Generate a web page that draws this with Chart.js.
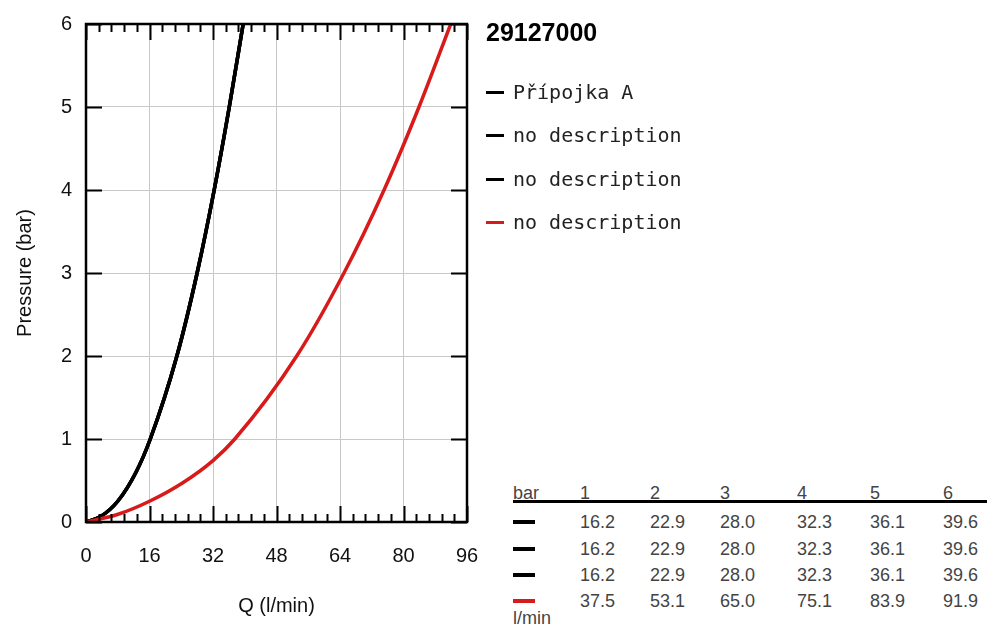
<!DOCTYPE html>
<html>
<head>
<meta charset="utf-8">
<script src="https://cdn.jsdelivr.net/npm/chart.js@4.4.1/dist/chart.umd.min.js"></script>
<style>
  body { margin: 0; background: #fff; width: 1003px; height: 634px; overflow: hidden; position: relative; font-family: Arial, "Liberation Sans", sans-serif; }
  #plot { position: absolute; left: 0; top: 0; width: 490px; height: 634px; }
  #title { position: absolute; left: 486px; top: 18px; font: bold 25px Arial, "Liberation Sans", sans-serif; color: #000; }
  .leg { position: absolute; left: 486px; font: 20px "DejaVu Sans Mono", monospace; color: #222; line-height: 24px; }
  .leg span.mark { display: inline-block; width: 18px; height: 3px; vertical-align: middle; margin-right: 9px; position: relative; top: -1px; }
  #tbl { position: absolute; left: 513px; top: 480px; font: 18px Arial, "Liberation Sans", sans-serif; color: #444; }
  #tbl .cell { position: absolute; white-space: nowrap; line-height: 20px; }
  #tbl .rule { position: absolute; left: 0; top: 20px; width: 474px; height: 3px; background: #000; }
  #tbl .dash { position: absolute; width: 22px; height: 4px; }
</style>
</head>
<body>
<div id="plot"><canvas id="myChart" width="490" height="634"></canvas></div>
<div id="title"></div>
<div id="legend"></div>
<div id="tbl"></div>
<script>
const productCode = "29127000";
const pressureBar = [1, 2, 3, 4, 5, 6];
const flowA = [16.2, 22.9, 28.0, 32.3, 36.1, 39.6];
const flowB = [16.2, 22.9, 28.0, 32.3, 36.1, 39.6];
const flowC = [16.2, 22.9, 28.0, 32.3, 36.1, 39.6];
const flowD = [37.5, 53.1, 65.0, 75.1, 83.9, 91.9];
const lowBlackQ = [0, 3.8, 8.0, 12.6];
const lowBlackP = [0, 0.07, 0.25, 0.60];
const lowRedQ = [0, 7.9, 16, 24.3, 32];
const lowRedP = [0, 0.09, 0.25, 0.47, 0.74];

const seriesNames = ["Přípojka A", "no description", "no description", "no description"];
const seriesColors = ["#000000", "#000000", "#000000", "#d71a1a"];
const xTicks = [0, 16, 32, 48, 64, 80, 96];
const yTicks = [0, 1, 2, 3, 4, 5, 6];

const allFlows = [flowA, flowB, flowC, flowD];
const lowQ = [lowBlackQ, lowBlackQ, lowBlackQ, lowRedQ];
const lowP = [lowBlackP, lowBlackP, lowBlackP, lowRedP];

function toPoints(i) {
  const pts = lowQ[i].map((q, k) => ({ x: q, y: lowP[i][k] }));
  return pts.concat(allFlows[i].map((q, k) => ({ x: q, y: pressureBar[k] })));
}

// frame + inward ticks like the original
const frameTicks = {
  id: "frameTicks",
  afterDraw(chart) {
    const ctx = chart.ctx;
    const a = chart.chartArea;
    const xs = chart.scales.x;
    const ys = chart.scales.y;
    ctx.save();
    ctx.strokeStyle = "#000";
    ctx.lineWidth = 2;
    ctx.beginPath();
    // minor ticks on x every 3.2
    for (let v = 0; v <= 96.01; v += 3.2) {
      const px = Math.round(xs.getPixelForValue(v)) + 0.5;
      const major = xTicks.some(t => Math.abs(t - v) < 0.01);
      const len = major ? 16 : 8;
      ctx.moveTo(px, a.bottom);
      ctx.lineTo(px, a.bottom - len);
      ctx.moveTo(px, a.top);
      ctx.lineTo(px, a.top + len);
    }
    yTicks.forEach(t => {
      const py = Math.round(ys.getPixelForValue(t)) + 0.5;
      ctx.moveTo(a.left, py);
      ctx.lineTo(a.left + 16, py);
      ctx.moveTo(a.right, py);
      ctx.lineTo(a.right - 16, py);
    });
    ctx.stroke();
    ctx.lineWidth = 2.5;
    ctx.strokeRect(a.left, a.top, a.right - a.left, a.bottom - a.top);
    ctx.restore();
  }
};

const ctx = document.getElementById("myChart");
new Chart(ctx, {
  type: "line",
  data: {
    datasets: allFlows.map((flow, i) => ({
      label: seriesNames[i],
      data: toPoints(i),
      borderColor: seriesColors[i],
      borderWidth: 3.5,
      pointRadius: 0,
      fill: false,
      cubicInterpolationMode: "monotone",
    })).reverse(),
  },
  options: {
    responsive: false,
    animation: false,
    layout: { padding: { top: 24, right: 23, left: 0, bottom: 0 } },
    plugins: { legend: { display: false }, tooltip: { enabled: false } },
    scales: {
      x: {
        type: "linear",
        min: 0,
        max: 96,
        afterFit: (s) => { s.height = 112; s.paddingLeft = 0; s.paddingRight = 0; },
        afterBuildTicks: (s) => { s.ticks = xTicks.map(v => ({ value: v })); },
        ticks: { color: "#111", font: { family: "Arial", size: 20 }, padding: 22, maxRotation: 0 },
        grid: { color: "#c8c8c8", lineWidth: 1, drawTicks: false },
        border: { display: false },
        title: { display: true, text: "Q (l/min)", color: "#111", font: { family: "Arial", size: 20 }, padding: { bottom: 16 } },
      },
      y: {
        type: "linear",
        min: 0,
        max: 6,
        afterFit: (s) => { s.width = 86; s.paddingTop = 0; s.paddingBottom = 0; },
        afterBuildTicks: (s) => { s.ticks = yTicks.map(v => ({ value: v })); },
        ticks: { color: "#111", font: { family: "Arial", size: 20 }, padding: 14 },
        grid: { color: "#c8c8c8", lineWidth: 1, drawTicks: false },
        border: { display: false },
        title: { display: true, text: "Pressure (bar)", color: "#111", font: { family: "Arial", size: 20 }, padding: { top: 13 } },
      },
    },
  },
  plugins: [frameTicks],
});

// title + legend on the right
document.getElementById("title").textContent = productCode;
const legendTops = [80, 123, 167, 210];
let legendHtml = "";
seriesNames.forEach((name, i) => {
  legendHtml += '<div class="leg" style="top:' + legendTops[i] + 'px"><span class="mark" style="background:' + seriesColors[i] + '"></span>' + name + '</div>';
});
document.getElementById("legend").innerHTML = legendHtml;

// value table under the legend
const colX = [67, 137, 207, 284, 357, 430];
const rowY = [32, 59, 85, 111];
let t = '<div class="cell" style="left:0;top:3px">bar</div><div class="rule"></div>';
pressureBar.forEach((p, j) => {
  t += '<div class="cell" style="left:' + colX[j] + 'px;top:3px">' + p + '</div>';
});
allFlows.forEach((flow, i) => {
  t += '<div class="dash" style="left:0;top:' + (rowY[i] + 8) + 'px;background:' + seriesColors[i] + '"></div>';
  flow.forEach((q, j) => {
    t += '<div class="cell" style="left:' + colX[j] + 'px;top:' + rowY[i] + 'px">' + q.toFixed(1) + '</div>';
  });
});
t += '<div class="cell" style="left:0;top:128px">l/min</div>';
document.getElementById("tbl").innerHTML = t;
</script>
</body>
</html>
